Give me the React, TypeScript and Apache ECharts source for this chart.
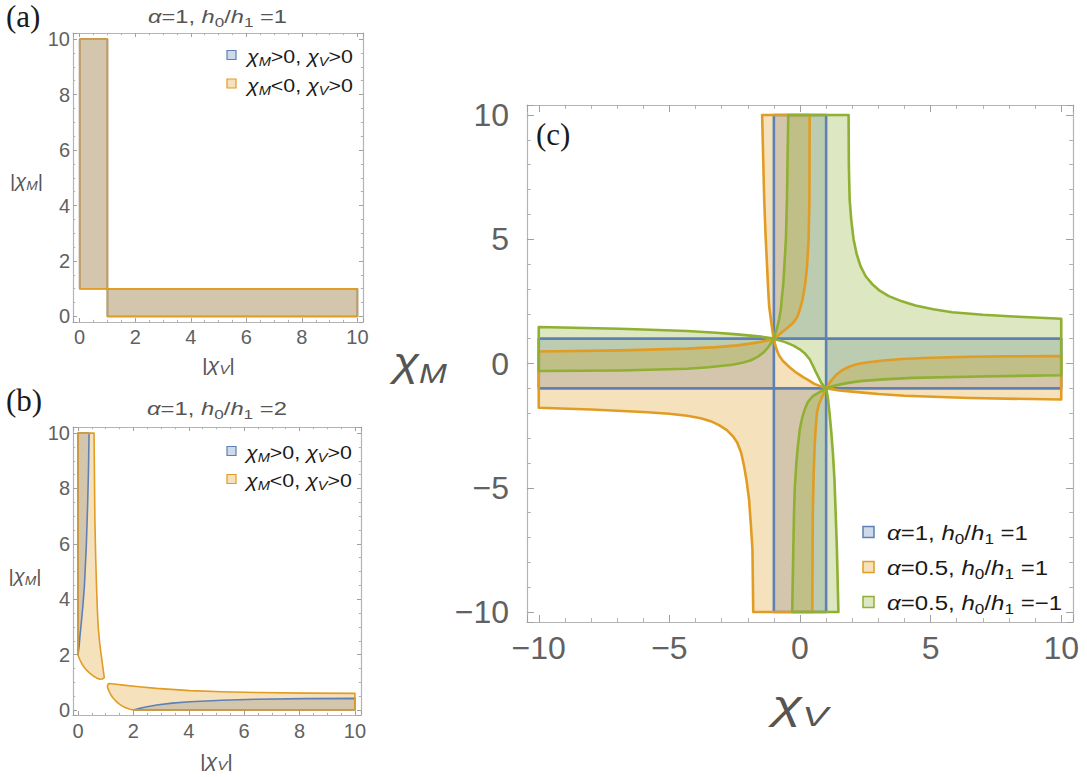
import React, { useEffect, useRef } from "react";
import * as echarts from "echarts";

// ---------- colours ----------
const BLUE = "#5E81B5";
const ORANGE = "#E19C24";
const GREEN = "#8FB032";
const FONT = "'Liberation Sans', Arial, sans-serif";
const SERIF = "'Liberation Serif', 'DejaVu Serif', serif";

// ---------- tick labels ----------
const abTicks = [0, 2, 4, 6, 8, 10];
const cTicks = [-10, -5, 0, 5, 10];

// ---------- panel (a): alpha=1, h0/h1=1 (both regions coincide) ----------
const aStripVertical: number[][] = [[0, 1], [1, 1], [1, 10], [0, 10]];
const aStripHorizontal: number[][] = [[1, 0], [10, 0], [10, 1], [1, 1]];

// ---------- panel (b): alpha=1, h0/h1=2 ----------
const bBlueUpper: number[][] = [[0, 2], [0.04, 2.3], [0.07, 2.65], [0.13, 3.25], [0.18, 3.8], [0.23, 4.45], [0.3, 5.9], [0.35, 7.46], [0.38, 8.7], [0.4, 10], [0, 10]];
const bBlueLower: number[][] = [[2, 0], [2.2, 0.05], [2.4, 0.1], [2.84, 0.18], [3.4, 0.25], [4.04, 0.3], [5.2, 0.35], [6.45, 0.39], [8.2, 0.41], [10, 0.42], [10, 0]];
const bOrangeUpper: number[][] = [[0, 10], [0.58, 10], [0.61, 6.86], [0.64, 5.5], [0.67, 4.45], [0.7, 3.6], [0.73, 3.0], [0.78, 2.45], [0.83, 2.05], [0.89, 1.6], [0.95, 1.17], [0.88, 1.12], [0.79, 1.11], [0.67, 1.16], [0.55, 1.23], [0.42, 1.33], [0.31, 1.44], [0.21, 1.56], [0.13, 1.69], [0.06, 1.83], [0, 1.99]];
const bOrangeLower: number[][] = [[1.1, 0.96], [1.3, 0.94], [1.64, 0.9], [2.2, 0.84], [2.84, 0.78], [4.04, 0.7], [5.2, 0.66], [6.45, 0.63], [8.2, 0.61], [10, 0.6], [10, 0], [2, 0], [1.85, 0.04], [1.7, 0.09], [1.57, 0.16], [1.45, 0.25], [1.34, 0.35], [1.25, 0.45], [1.18, 0.56], [1.13, 0.66], [1.08, 0.78], [1.06, 0.86]];

// ---------- panel (c) ----------
// alpha=1, h0/h1=1
const cBlueTop: number[][] = [[-1, 1], [1, 1], [1, 10], [-1, 10]];
const cBlueBottom: number[][] = [[-1, -10], [1, -10], [1, -1], [-1, -1]];
const cBlueLeft: number[][] = [[-10, -1], [-1, -1], [-1, 1], [-10, 1]];
const cBlueRight: number[][] = [[1, -1], [10, -1], [10, 1], [1, 1]];
// alpha=0.5, h0/h1=1
const cOrangeTop: number[][] = [[-1, 1], [-1.04, 1.2], [-1.08, 1.5], [-1.13, 1.9], [-1.18, 2.3], [-1.22, 3.0], [-1.26, 3.9], [-1.32, 5.2], [-1.37, 6.6], [-1.45, 10], [0.37, 10], [0.36, 6.6], [0.33, 5.0], [0.27, 3.9], [0.2, 3.2], [0.1, 2.58], [0.0, 2.2], [-0.09, 1.9], [-0.25, 1.65], [-0.41, 1.5], [-0.58, 1.35], [-0.73, 1.23], [-0.87, 1.1]];
const cOrangeRight: number[][] = [[1, -1], [1.12, -0.8], [1.25, -0.62], [1.4, -0.44], [1.6, -0.28], [1.9, -0.12], [2.2, -0.02], [2.6, 0.05], [3.2, 0.12], [3.9, 0.18], [5, 0.23], [6.5, 0.27], [8, 0.29], [10, 0.3], [10, -1.45], [6.5, -1.39], [4, -1.3], [3, -1.23], [2.4, -1.17], [1.9, -1.12], [1.5, -1.08], [1.2, -1.03]];
const cOrangeMain: number[][] = [[-1, 1], [-1.2, 0.94], [-1.5, 0.87], [-1.9, 0.8], [-2.4, 0.73], [-3.2, 0.66], [-4.32, 0.6], [-6.88, 0.53], [-10, 0.48], [-10, -1.78], [-8, -1.85], [-6, -1.95], [-5, -2.02], [-4.32, -2.1], [-3.8, -2.2], [-3.42, -2.32], [-3.1, -2.48], [-2.8, -2.68], [-2.55, -2.95], [-2.4, -3.19], [-2.25, -3.6], [-2.14, -4.13], [-2.04, -4.75], [-1.95, -5.47], [-1.88, -6.5], [-1.82, -7.48], [-1.79, -10], [0.47, -10], [0.49, -6.03], [0.52, -4.5], [0.56, -3.33], [0.6, -2.6], [0.65, -1.98], [0.72, -1.65], [0.81, -1.44], [0.9, -1.2], [1, -1], [0.75, -0.9], [0.55, -0.82], [0.37, -0.7], [0.12, -0.55], [-0.14, -0.37], [-0.4, -0.15], [-0.65, 0.1], [-0.8, 0.32], [-0.9, 0.57], [-0.96, 0.8]];
// alpha=0.5, h0/h1=-1
const cGreenMain: number[][] = [[-1, 1], [-0.9, 1.35], [-0.8, 1.77], [-0.73, 2.2], [-0.7, 2.58], [-0.64, 3.2], [-0.6, 3.9], [-0.54, 5.0], [-0.5, 6.6], [-0.45, 10], [1.86, 10], [1.87, 8], [1.9, 6.6], [1.96, 5.8], [2.05, 5.0], [2.17, 4.4], [2.32, 3.91], [2.52, 3.5], [2.76, 3.2], [3.05, 2.93], [3.4, 2.71], [3.9, 2.5], [4.42, 2.33], [5.1, 2.18], [5.83, 2.06], [7, 1.96], [8.38, 1.88], [10, 1.8], [10, -0.47], [6.9, -0.52], [4.3, -0.58], [3.2, -0.64], [2.4, -0.7], [1.9, -0.77], [1.5, -0.85], [1.2, -0.93], [1, -1], [0.9, -0.9], [0.81, -0.77], [0.72, -0.58], [0.62, -0.37], [0.5, -0.1], [0.37, 0.17], [0.2, 0.39], [-0.01, 0.57], [-0.25, 0.72], [-0.52, 0.84], [-0.78, 0.93]];
const cGreenLeft: number[][] = [[-1, 1], [-1.2, 1.03], [-1.5, 1.08], [-1.9, 1.12], [-2.4, 1.17], [-3.2, 1.24], [-4.32, 1.31], [-6.88, 1.4], [-10, 1.47], [-10, -0.3], [-6.88, -0.28], [-4.32, -0.21], [-3.5, -0.15], [-2.6, -0.05], [-2.2, 0.03], [-1.9, 0.12], [-1.6, 0.28], [-1.4, 0.44], [-1.22, 0.65], [-1.12, 0.8]];
const cGreenBottom: number[][] = [[1, -1], [1.04, -1.2], [1.08, -1.5], [1.13, -2.0], [1.19, -2.66], [1.26, -3.6], [1.32, -4.68], [1.41, -7.37], [1.47, -10], [-0.3, -10], [-0.23, -6.03], [-0.2, -5.0], [-0.14, -4.0], [-0.08, -3.3], [-0.01, -2.66], [0.08, -2.2], [0.18, -1.85], [0.3, -1.55], [0.49, -1.31], [0.75, -1.15]];

// ---------- legends / titles ----------
const abLegendLabels = ["{i|χ}{si|M}{n|>0, }{i|χ}{si|V}{n|>0}", "{i|χ}{si|M}{n|<0, }{i|χ}{si|V}{n|>0}"];
const cLegendLabels = [
  "{i|α}{n|=1, }{i|h}{s|0}{n|/}{i|h}{s|1}{n| =1}",
  "{i|α}{n|=0.5, }{i|h}{s|0}{n|/}{i|h}{s|1}{n| =1}",
  "{i|α}{n|=0.5, }{i|h}{s|0}{n|/}{i|h}{s|1}{n| =−1}",
];
const aTitle = "{i|α}{n|=1, }{i|h}{s|0}{n|/}{i|h}{s|1}{n| =1}";
const bTitle = "{i|α}{n|=1, }{i|h}{s|0}{n|/}{i|h}{s|1}{n| =2}";
const absLabelM = "{n||}{i|χ}{si|M}{n||}";
const absLabelV = "{n||}{i|χ}{si|V}{n||}";
const labelM = "{i|χ}{si|M}";
const labelV = "{i|χ}{si|V}";

const SUB = 0.7;

function richStyles(fs: number, color: string) {
  const lh = Math.round(fs * 1.25);
  const sfs = Math.round(fs * SUB);
  const slh = Math.round(sfs * 1.05);
  return {
    n: { fontSize: fs, fontFamily: FONT, fill: color, color, lineHeight: lh },
    i: { fontSize: fs, fontFamily: FONT, fontStyle: "italic", fill: color, color, lineHeight: lh },
    s: { fontSize: sfs, fontFamily: FONT, fill: color, color, lineHeight: slh, verticalAlign: "bottom" },
    si: { fontSize: sfs, fontFamily: FONT, fontStyle: "italic", fill: color, color, lineHeight: slh, verticalAlign: "bottom" },
  };
}

let measureCtx: CanvasRenderingContext2D | null = null;
function richWidth(text: string, fs: number) {
  if (!measureCtx) measureCtx = document.createElement("canvas").getContext("2d");
  const ctx = measureCtx!;
  const sfs = Math.round(fs * SUB);
  let w = 0;
  const re = /\{(\w+)\|([^}]*)\}/g;
  let m: RegExpExecArray | null;
  while ((m = re.exec(text))) {
    const name = m[1];
    const italic = name === "i" || name === "si";
    const size = name === "s" || name === "si" ? sfs : fs;
    ctx.font = `${italic ? "italic " : ""}${size}px ${FONT}`;
    w += ctx.measureText(m[2]).width;
  }
  return w;
}

// the text is drawn left-aligned at (x, y); scaled horizontally by sx
function richText(x: number, y: number, text: string, fs: number, color: string, sx: number) {
  return {
    type: "text",
    x,
    y,
    scaleX: sx,
    originX: 0,
    originY: 0,
    silent: true,
    z: 100,
    style: {
      text,
      rich: richStyles(fs, color),
      fill: color,
      fontSize: fs,
      fontFamily: FONT,
      align: "left",
      verticalAlign: "middle",
    },
  };
}

// text stretched horizontally to span [x0, x0 + width], as in the reference
function fitText(x0: number, y: number, text: string, fs: number, color: string, width: number) {
  return richText(x0, y, text, fs, color, width / richWidth(text, fs));
}

function plainText(x: number, y: number, text: string, fs: number, color: string, family: string) {
  return {
    type: "text",
    x,
    y,
    silent: true,
    z: 100,
    style: { text, fill: color, fontSize: fs, fontFamily: family, align: "left", verticalAlign: "middle" },
  };
}

function legendBox(x: number, y: number, size: number, color: string, lw: number) {
  return {
    type: "rect",
    silent: true,
    z: 100,
    shape: { x, y: y - size / 2, width: size, height: size },
    style: { fill: echarts.color.modifyAlpha(color, 0.3), stroke: color, lineWidth: lw },
  };
}

function tickFormatter(ticks: number[]) {
  return (v: number) => {
    const r = Math.round(v);
    if (Math.abs(v - r) > 1e-6 || !ticks.includes(r)) return "";
    return r < 0 ? "−" + Math.abs(r) : String(r);
  };
}

function makeAxes(
  dim: "x" | "y",
  gridIndex: number,
  min: number,
  max: number,
  split: number,
  minorSplit: number,
  ticks: number[],
  fs: number,
  margin: number,
  tickLen: number
) {
  const base = {
    type: "value",
    gridIndex,
    min,
    max,
    splitNumber: split,
    axisLine: { show: true, onZero: false, lineStyle: { color: "#b4b4b4", width: 1.2 } },
    axisTick: { show: true, inside: true, length: tickLen, lineStyle: { color: "#a0a0a0", width: 1 } },
    minorTick: { show: true, splitNumber: minorSplit, length: tickLen * 0.55, lineStyle: { color: "#b0b0b0", width: 1 } },
    splitLine: { show: false },
    minorSplitLine: { show: false },
  };
  const main = {
    ...base,
    position: dim === "x" ? "bottom" : "left",
    axisLabel: {
      show: true,
      color: "#616161",
      fontSize: fs,
      fontFamily: FONT,
      margin,
      showMinLabel: true,
      showMaxLabel: true,
      formatter: tickFormatter(ticks),
    },
  };
  const opp = {
    ...base,
    position: dim === "x" ? "top" : "right",
    axisLabel: { show: false },
  };
  return [main, opp];
}

// filled region (no outline) and its outline are drawn as two layers,
// so that every boundary sits above every translucent fill
function regionSeries(pts: number[][], axisIdx: number, color: string, lw: number, z: number, outline: boolean) {
  return {
    type: "custom",
    xAxisIndex: axisIdx,
    yAxisIndex: axisIdx,
    silent: true,
    z,
    data: pts,
    encode: { x: 0, y: 1 },
    renderItem: (params: any, api: any) => {
      if (params.dataIndex !== 0) return null;
      const points = pts.map((p) => api.coord(p));
      return {
        type: "polygon",
        shape: { points },
        style: outline
          ? { fill: "none", stroke: color, lineWidth: lw, lineJoin: "round" }
          : { fill: echarts.color.modifyAlpha(color, 0.3), stroke: "none" },
      };
    },
  };
}

export default function App() {
  const ref = useRef<HTMLDivElement>(null);

  useEffect(() => {
    if (!ref.current) return;
    const chart = echarts.init(ref.current, undefined, { renderer: "svg" });

    const grids = [
      { left: 73, top: 33, width: 290, height: 289 },
      { left: 73, top: 427, width: 288, height: 288 },
      { left: 527, top: 105, width: 546, height: 517 },
    ];

    const xAxes = [
      ...makeAxes("x", 0, -0.24, 10.2, 5, 4, abTicks, 20, 5, 4),
      ...makeAxes("x", 1, -0.18, 10.22, 5, 4, abTicks, 20, 6, 4),
      ...makeAxes("x", 2, -10.45, 10.45, 4, 5, cTicks, 32, 10, 7),
    ];
    const yAxes = [
      ...makeAxes("y", 0, -0.2, 10.22, 5, 4, abTicks, 20, 3, 4),
      ...makeAxes("y", 1, -0.18, 10.22, 5, 4, abTicks, 20, 3, 4),
      ...makeAxes("y", 2, -10.4, 10.4, 4, 5, cTicks, 32, 18, 7),
    ];

    const regions: [number[][], number, string, number][] = [
      [aStripVertical, 0, BLUE, 1.6],
      [aStripHorizontal, 0, BLUE, 1.6],
      [aStripVertical, 0, ORANGE, 1.6],
      [aStripHorizontal, 0, ORANGE, 1.6],
      [bBlueUpper, 2, BLUE, 1.6],
      [bBlueLower, 2, BLUE, 1.6],
      [bOrangeUpper, 2, ORANGE, 1.6],
      [bOrangeLower, 2, ORANGE, 1.6],
      [cBlueTop, 4, BLUE, 2.6],
      [cBlueBottom, 4, BLUE, 2.6],
      [cBlueLeft, 4, BLUE, 2.6],
      [cBlueRight, 4, BLUE, 2.6],
      [cOrangeMain, 4, ORANGE, 2.6],
      [cOrangeTop, 4, ORANGE, 2.6],
      [cOrangeRight, 4, ORANGE, 2.6],
      [cGreenMain, 4, GREEN, 2.6],
      [cGreenLeft, 4, GREEN, 2.6],
      [cGreenBottom, 4, GREEN, 2.6],
    ];
    const series = [
      ...regions.map((r, k) => regionSeries(r[0], r[1], r[2], r[3], 2 + k * 0.01, false)),
      ...regions.map((r, k) => regionSeries(r[0], r[1], r[2], r[3], 5 + k * 0.01, true)),
    ];

    const black = "#1a1a1a";
    const gray = "#555555";
    const cLegendFs = 21;
    const cLegendScale = 175 / richWidth(cLegendLabels[2], cLegendFs);
    const abLegendFs = 19;
    const abLegendScale = 106 / richWidth(abLegendLabels[0], abLegendFs);

    const graphic: any[] = [
      plainText(6, 16, "(a)", 31, black, SERIF),
      plainText(6, 400, "(b)", 31, black, SERIF),
      plainText(536, 134, "(c)", 31, black, SERIF),
      // titles
      fitText(148, 17, aTitle, 18, gray, 139),
      fitText(147, 409, bTitle, 18, gray, 140),
      // axis names (a), (b)
      fitText(10, 180, absLabelM, 19, gray, 33),
      fitText(202, 364, absLabelV, 19, gray, 33),
      fitText(8.5, 575, absLabelM, 19, gray, 33),
      fitText(200, 760, absLabelV, 19, gray, 33),
      // axis names (c)
      fitText(393, 362, labelM, 40, gray, 54),
      fitText(772, 705, labelV, 40, gray, 56),
      // legend (a)
      legendBox(227, 55, 9, BLUE, 1.2),
      richText(247, 56, abLegendLabels[0], abLegendFs, black, abLegendScale),
      legendBox(227, 83.5, 9, ORANGE, 1.2),
      richText(247, 85, abLegendLabels[1], abLegendFs, black, abLegendScale),
      // legend (b)
      legendBox(227, 451, 9, BLUE, 1.2),
      richText(246, 452, abLegendLabels[0], abLegendFs, black, abLegendScale),
      legendBox(227, 479, 9, ORANGE, 1.2),
      richText(246, 480, abLegendLabels[1], abLegendFs, black, abLegendScale),
      // legend (c)
      legendBox(863, 532, 11, BLUE, 1.5),
      richText(887, 533, cLegendLabels[0], cLegendFs, black, cLegendScale),
      legendBox(863, 567, 11, ORANGE, 1.5),
      richText(887, 568, cLegendLabels[1], cLegendFs, black, cLegendScale),
      legendBox(863, 602, 11, GREEN, 1.5),
      richText(887, 603, cLegendLabels[2], cLegendFs, black, cLegendScale),
    ];

    chart.setOption({
      animation: false,
      backgroundColor: "#ffffff",
      grid: grids,
      xAxis: xAxes,
      yAxis: yAxes,
      series,
      graphic,
    });

    return () => {
      chart.dispose();
    };
  }, []);

  return (
    <div
      ref={ref}
      style={{ position: "absolute", left: 0, top: 0, width: 1087, height: 777 }}
    />
  );
}
